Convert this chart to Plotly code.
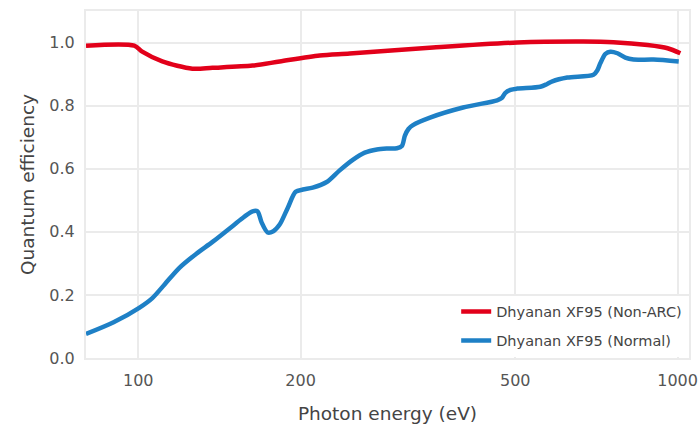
import plotly.graph_objects as go

# Photon energy (eV) and quantum efficiency
energy_normal = [80, 90, 100.4, 106.2, 112, 119.2, 128, 137.3, 149.5, 157, 162.9, 166.4, 169.3,
                 173.7, 178, 182.9, 189.2, 195.8, 202, 210.6, 223.6, 236, 249.9, 263, 277.0,
                 290, 301.7, 308.2, 312.2, 317, 323.1, 347.5, 400.2, 462.9, 472, 478.9,
                 490, 504.3, 556.6, 572, 585.9, 624.6, 698.2, 710, 719.4, 735, 750.8, 773.6,
                 800, 828.6, 902.6, 1005]
qe_normal = [0.076, 0.113, 0.159, 0.190, 0.234, 0.286, 0.330, 0.368, 0.418, 0.447, 0.465, 0.465, 0.430,
             0.398, 0.402, 0.423, 0.475, 0.527, 0.534, 0.540, 0.558, 0.594, 0.628, 0.651, 0.661,
             0.664, 0.665, 0.672, 0.705, 0.726, 0.738, 0.762, 0.794, 0.817, 0.824, 0.840,
             0.850, 0.854, 0.860, 0.868, 0.877, 0.889, 0.898, 0.912, 0.935, 0.964, 0.971, 0.966,
             0.952, 0.946, 0.946, 0.940]

energy_nonarc = [80, 98.3, 101.7, 110.8, 126.0, 137.3, 162.9, 182.9, 217.0, 246.7,
                 352.0, 504.3, 668.9, 760.4, 879.7, 958.3, 1012]
qe_nonarc = [0.990, 0.990, 0.971, 0.940, 0.917, 0.920, 0.927, 0.940, 0.959, 0.965,
             0.984, 1.000, 1.003, 1.001, 0.992, 0.982, 0.966]

x_tick_vals = [100, 200, 500, 1000]
x_tick_text = ["100", "200", "500", "1000"]

name_nonarc = "Dhyanan XF95 (Non-ARC)"
name_normal = "Dhyanan XF95 (Normal)"

RED = "#e2001a"
BLUE = "#1e80c6"
GRID = "#ebebeb"
FONT = "DejaVu Sans"

fig = go.Figure()
fig.add_trace(go.Scatter(x=energy_nonarc, y=qe_nonarc, mode="lines", name=name_nonarc,
                         legendgroup="a",
                         line=dict(color=RED, width=4.5, shape="spline", smoothing=0.8)))
fig.add_trace(go.Scatter(x=energy_normal, y=qe_normal, mode="lines", name=name_normal,
                         legendgroup="b",
                         line=dict(color=BLUE, width=4.5, shape="spline", smoothing=0.8)))

fig.update_layout(
    width=700, height=429,
    margin=dict(l=86, r=11, t=11, b=71, autoexpand=False),
    paper_bgcolor="white", plot_bgcolor="white",
    font=dict(family=FONT, color="#444444", size=15),
    showlegend=True,
    legend=dict(x=0.997, y=0.004, xanchor="right", yanchor="bottom",
                bgcolor="white", borderwidth=0, tracegroupgap=7,
                font=dict(size=14.5, color="#444444"),
                traceorder="grouped", itemwidth=30),
    xaxis=dict(type="log", range=[1.9031, 3.0212], automargin=False,
               tickvals=x_tick_vals, ticktext=x_tick_text,
               showgrid=True, gridcolor=GRID, gridwidth=2,
               showline=True, linecolor=GRID, linewidth=2, mirror=True,
               zeroline=False, ticks="", ticklabelstandoff=7,
               tickfont=dict(size=16, color="#555555"),
               title=dict(text="Photon energy (eV)", font=dict(size=18.5, color="#444444"), standoff=18)),
    yaxis=dict(range=[0, 1.1], tickvals=[0, 0.2, 0.4, 0.6, 0.8, 1.0], tickformat=".1f",
               automargin=False,
               showgrid=True, gridcolor=GRID, gridwidth=2,
               showline=True, linecolor=GRID, linewidth=2, mirror=True,
               zeroline=False, ticks="", ticklabelstandoff=6,
               tickfont=dict(size=16, color="#555555"),
               title=dict(text="Quantum efficiency", font=dict(size=18.5, color="#444444"), standoff=10)),
)

fig.write_html("out.html", config={"displayModeBar": False},
               post_script="document.body.style.margin='0px';")
